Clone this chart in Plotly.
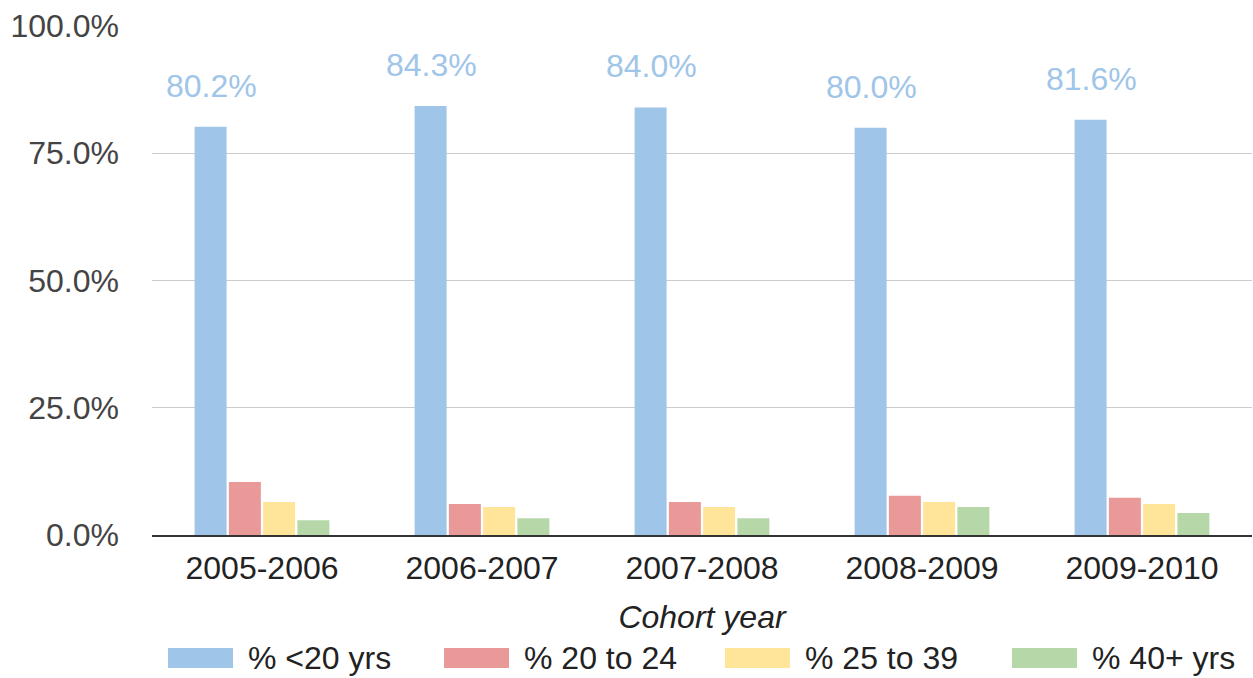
import plotly.graph_objects as go

cohorts = ["2005-2006", "2006-2007", "2007-2008", "2008-2009", "2009-2010"]
under_20 = [80.2, 84.3, 84.0, 80.0, 81.6]
age_20_24 = [10.4, 6.1, 6.5, 7.7, 7.3]
age_25_39 = [6.5, 5.5, 5.5, 6.5, 6.1]
age_40_plus = [2.9, 3.3, 3.3, 5.5, 4.3]

series_names = ["% <20 yrs", "% 20 to 24", "% 25 to 39", "% 40+ yrs"]
colors = ["#9fc5e8", "#ea9999", "#ffe599", "#b6d7a8"]
series = [under_20, age_20_24, age_25_39, age_40_plus]

FONT = "Liberation Sans, Arial, sans-serif"
FS = 32

fig = go.Figure()
for name, vals, col in zip(series_names, series, colors):
    fig.add_trace(go.Bar(x=cohorts, y=vals, name=name, marker_color=col,
                         marker_line_width=0, showlegend=False))

# value labels above the blue bars
for c, v in zip(cohorts, under_20):
    fig.add_annotation(x=c, y=v, text=f"{v:.1f}%", showarrow=False,
                       xshift=-51, yshift=41, yanchor="middle",
                       font=dict(family=FONT, size=FS, color="#9fc5e8"))

# hand-drawn legend so the swatches can be wide like the original
plot_left, plot_w, plot_bottom, plot_h = 152, 1100, 535, 509
legend_x = [168, 444, 725, 1012]
for name, col, lx in zip(series_names, colors, legend_x):
    fig.add_shape(type="rect", xref="paper", yref="paper",
                  x0=(lx - plot_left) / plot_w, x1=(lx + 65 - plot_left) / plot_w,
                  y0=(plot_bottom - 668) / plot_h, y1=(plot_bottom - 648) / plot_h,
                  fillcolor=col, line_width=0)
    fig.add_annotation(xref="paper", yref="paper",
                       x=(lx + 78 - plot_left) / plot_w, y=(plot_bottom - 658) / plot_h,
                       text=name, showarrow=False, xanchor="left", yanchor="middle",
                       font=dict(family=FONT, size=FS, color="#222"))

fig.update_layout(
    barmode="group",
    bargap=0.377,
    bargroupgap=0.066,
    width=1253,
    height=678,
    margin=dict(l=152, r=1, t=26, b=143),
    plot_bgcolor="white",
    paper_bgcolor="white",
    font=dict(family=FONT, size=FS, color="#333"),
    showlegend=False,
)
fig.update_yaxes(
    range=[0, 100],
    tickvals=[0, 25, 50, 75, 100],
    ticktext=["0.0%", "25.0%", "50.0%", "75.0%", "100.0%"],
    showgrid=True, gridcolor="#cccccc", gridwidth=1,
    zeroline=False, showline=False,
    ticklabelstandoff=32,
    tickfont=dict(size=FS, color="#444"),
)
fig.update_xaxes(
    showline=True, linecolor="#333", linewidth=2,
    ticklabelstandoff=4,
    tickfont=dict(size=FS, color="#222"),
    title=dict(text="<i>Cohort year</i>", standoff=20,
               font=dict(size=FS, color="#222")),
)

fig.write_html("out.html", config={"displayModeBar": False},
               post_script="document.body.style.margin='0';")
